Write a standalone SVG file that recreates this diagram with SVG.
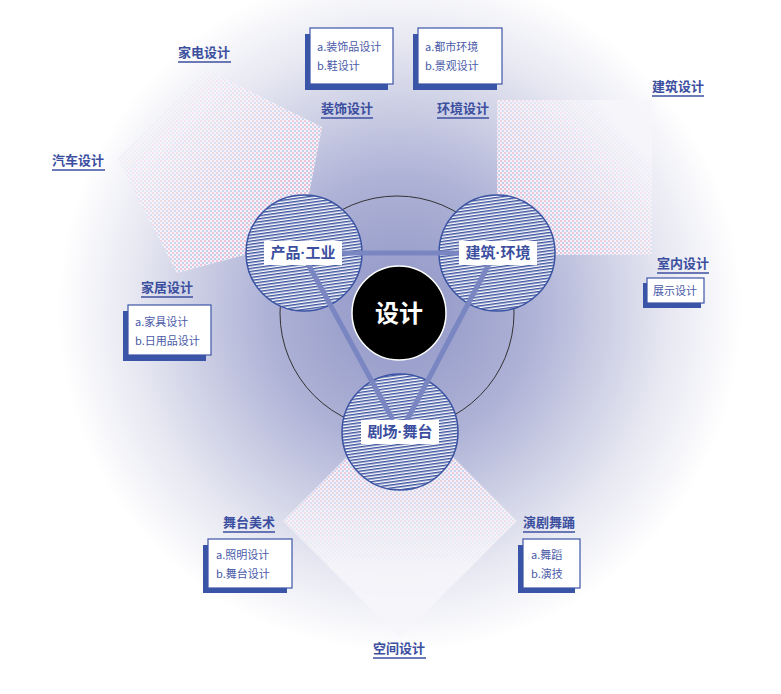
<svg xmlns="http://www.w3.org/2000/svg" width="781" height="694" viewBox="0 0 781 694">
<defs>
<style>
.lbl{font-family:"Noto Sans CJK SC","Liberation Sans",sans-serif;font-weight:bold;font-size:13px;fill:#3c4f9f}
.ul{stroke:#3c4f9f;stroke-width:1.5}
.bt{font-family:"Noto Sans CJK SC","Liberation Sans",sans-serif;font-size:11px;fill:#4a5aa8}
.box{fill:#fff;stroke:#3c55a6;stroke-width:1.2}
.sh{fill:#3a55a8}
.ring{fill:url(#hatch);stroke:#3b53a3;stroke-width:1.5}
.nt{font-family:"Noto Sans CJK SC","Liberation Sans",sans-serif;font-weight:bold;font-size:15px;fill:#3c4f9f}
.dot{font-family:"Liberation Sans",sans-serif}
.link{stroke:#7a86c2;stroke-width:5;fill:none}
</style>
<radialGradient id="bg" cx="400" cy="310" r="380" gradientUnits="userSpaceOnUse">
<stop offset="0" stop-color="#8f95c6"/>
<stop offset="0.35" stop-color="#aeb2d6"/>
<stop offset="0.7" stop-color="#e6e7f1"/>
<stop offset="0.9" stop-color="#ffffff"/>
</radialGradient>
<pattern id="hatch" width="6" height="3" patternUnits="userSpaceOnUse" patternTransform="rotate(-8)">
<rect width="6" height="3" fill="#fff"/>
<rect width="6" height="1.5" fill="#3d539f"/>
</pattern>
<pattern id="dots" width="4" height="4" patternUnits="userSpaceOnUse">
<rect width="4" height="4" fill="#f4f4f8"/>
<circle cx="1" cy="1" r="0.8" fill="#e2508f"/>
<circle cx="3" cy="3" r="0.8" fill="#5a7ad0"/>
</pattern>
<linearGradient id="fL" x1="0.2" y1="0.1" x2="0.9" y2="0.8"><stop offset="0" stop-color="#fff" stop-opacity="0"/><stop offset="1" stop-color="#fff" stop-opacity="0.9"/></linearGradient>
<linearGradient id="fR" x1="0.9" y1="0.1" x2="0.1" y2="0.9"><stop offset="0.1" stop-color="#fff" stop-opacity="0"/><stop offset="1" stop-color="#fff" stop-opacity="0.85"/></linearGradient>
<linearGradient id="fB" x1="0" y1="0" x2="0" y2="1"><stop offset="0" stop-color="#fff" stop-opacity="0.95"/><stop offset="0.5" stop-color="#fff" stop-opacity="0.25"/><stop offset="0.7" stop-color="#fff" stop-opacity="0"/></linearGradient>
<mask id="mL" maskUnits="userSpaceOnUse"><polygon points="117,158 207,70 322,127 300,240 177,273" fill="url(#fL)"/></mask>
<mask id="mR" maskUnits="userSpaceOnUse"><rect x="497" y="100" width="155" height="155" fill="url(#fR)"/></mask>
<mask id="mB" maskUnits="userSpaceOnUse"><polygon points="400,404 517,521 400,638 283,521" fill="url(#fB)"/></mask>
</defs>
<rect width="781" height="694" fill="url(#bg)"/>
<g id="areas">
<polygon points="117,158 207,70 322,127 300,240 177,273" fill="#f6f6fa" opacity="0.85"/>
<polygon points="117,158 207,70 322,127 300,240 177,273" fill="url(#dots)" mask="url(#mL)"/>
<rect x="497" y="100" width="155" height="155" fill="#f6f6fa" opacity="0.85"/>
<rect x="497" y="100" width="155" height="155" fill="url(#dots)" mask="url(#mR)"/>
<polygon points="400,404 517,521 400,638 283,521" fill="#f6f6fa" opacity="0.85"/>
<polygon points="400,404 517,521 400,638 283,521" fill="url(#dots)" mask="url(#mB)"/>
</g>
<circle cx="397" cy="313" r="117" fill="none" stroke="#333" stroke-width="1"/>
<g id="n-prod"><circle class="ring" cx="304" cy="253" r="58"/></g>
<g id="n-arch"><circle class="ring" cx="497" cy="253" r="58"/></g>
<g id="n-stage"><circle class="ring" cx="400" cy="432" r="58"/></g>
<g id="connectors">
<line class="link" x1="340" y1="253" x2="460" y2="253"/>
<line class="link" x1="307" y1="262" x2="393" y2="420"/>
<line class="link" x1="490" y1="262" x2="407" y2="420"/>
</g>
<g id="n-center"><circle cx="399" cy="313" r="47" fill="#000" stroke="#fff" stroke-width="1.5"/>
<text x="399" y="322" text-anchor="middle" font-family="Noto Sans CJK SC,sans-serif" font-weight="bold" font-size="24" fill="#fff">设计</text></g>
<g id="labels-nodes">
<rect x="264" y="241" width="78" height="24" fill="#fff"/><text class="nt" x="303" y="258" text-anchor="middle">产品<tspan class="dot">·</tspan>工业</text>
<rect x="459" y="241" width="78" height="24" fill="#fff"/><text class="nt" x="498" y="258" text-anchor="middle">建筑<tspan class="dot">·</tspan>环境</text>
<rect x="361" y="420" width="78" height="24" fill="#fff"/><text class="nt" x="400" y="437" text-anchor="middle">剧场<tspan class="dot">·</tspan>舞台</text>
</g>
<g id="tags">
<text class="lbl" x="178" y="57">家电设计</text><line class="ul" x1="178" y1="62" x2="231" y2="62"/>
<text class="lbl" x="52" y="165">汽车设计</text><line class="ul" x1="52" y1="170" x2="105" y2="170"/>
<text class="lbl" x="321" y="113">装饰设计</text><line class="ul" x1="321" y1="118" x2="373" y2="118"/>
<text class="lbl" x="437" y="113">环境设计</text><line class="ul" x1="437" y1="118" x2="489" y2="118"/>
<text class="lbl" x="652" y="91">建筑设计</text><line class="ul" x1="652" y1="96" x2="704" y2="96"/>
<text class="lbl" x="657" y="268">室内设计</text><line class="ul" x1="657" y1="273" x2="709" y2="273"/>
<text class="lbl" x="141" y="292">家居设计</text><line class="ul" x1="141" y1="297" x2="193" y2="297"/>
<text class="lbl" x="223" y="527">舞台美术</text><line class="ul" x1="223" y1="532" x2="275" y2="532"/>
<text class="lbl" x="523" y="527">演剧舞踊</text><line class="ul" x1="523" y1="532" x2="575" y2="532"/>
<text class="lbl" x="373" y="653">空间设计</text><line class="ul" x1="373" y1="658" x2="426" y2="658"/>
</g>
<g id="boxes">
<rect class="sh" x="305" y="34" width="83" height="56"/><rect class="box" x="310" y="28" width="83" height="56"/>
<text class="bt" x="317" y="51">a.装饰品设计</text><text class="bt" x="317" y="70">b.鞋设计</text>
<rect class="sh" x="413" y="34" width="84" height="56"/><rect class="box" x="418" y="28" width="84" height="56"/>
<text class="bt" x="425" y="51">a.都市环境</text><text class="bt" x="425" y="70">b.景观设计</text>
<rect class="sh" x="123" y="311" width="83" height="50"/><rect class="box" x="128" y="305" width="83" height="50"/>
<text class="bt" x="135" y="326">a.家具设计</text><text class="bt" x="135" y="345">b.日用品设计</text>
<rect class="sh" x="643" y="283" width="58" height="25"/><rect class="box" x="647" y="278" width="57" height="25"/>
<text class="bt" x="653" y="295">展示设计</text>
<rect class="sh" x="203" y="545" width="84" height="48"/><rect class="box" x="208" y="539" width="84" height="49"/>
<text class="bt" x="216" y="559">a.照明设计</text><text class="bt" x="216" y="578">b.舞台设计</text>
<rect class="sh" x="518" y="545" width="57" height="48"/><rect class="box" x="523" y="539" width="57" height="49"/>
<text class="bt" x="531" y="559">a.舞蹈</text><text class="bt" x="531" y="578">b.演技</text>
</g>
</svg>
